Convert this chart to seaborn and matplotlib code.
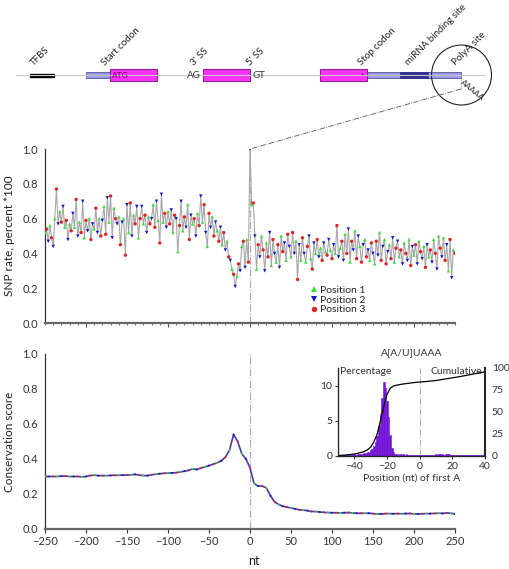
import numpy as np
import pandas as pd
import matplotlib
matplotlib.use("Agg")
import matplotlib.pyplot as plt
import matplotlib.ticker as ticker
from matplotlib.patches import Rectangle, Circle
import seaborn as sns

# SNP rate (percent * 100), every 2 nt from -250 to 250
snp_left = [
    0.52, 0.54, 0.47, 0.56, 0.49, 0.44, 0.60, 0.77, 0.57, 0.64,
    0.58, 0.67, 0.55, 0.59, 0.48, 0.57, 0.53, 0.63, 0.55, 0.71,
    0.50, 0.58, 0.52, 0.70, 0.49, 0.59, 0.53, 0.60, 0.48, 0.57,
    0.54, 0.66, 0.52, 0.60, 0.50, 0.59, 0.67, 0.51, 0.72, 0.58,
    0.73, 0.49, 0.66, 0.60, 0.57, 0.61, 0.45, 0.58, 0.60, 0.39,
    0.68, 0.52, 0.69, 0.50, 0.62, 0.57, 0.67, 0.49, 0.60, 0.67,
    0.57, 0.62, 0.52, 0.61, 0.57, 0.60, 0.68, 0.55, 0.70, 0.59,
    0.46, 0.74, 0.58, 0.63, 0.55, 0.64, 0.57, 0.65, 0.52, 0.62,
    0.60, 0.41, 0.56, 0.70, 0.53, 0.61, 0.55, 0.68, 0.48, 0.62,
    0.57, 0.60, 0.50, 0.63, 0.56, 0.73, 0.58, 0.68, 0.52, 0.44,
    0.63, 0.55, 0.61, 0.50, 0.58, 0.53, 0.47, 0.55, 0.45, 0.52,
    0.42, 0.47, 0.38, 0.36, 0.31, 0.28, 0.21, 0.27, 0.34, 0.30,
    0.44, 0.47, 0.32, 0.48, 0.35,
]
snp_zero = [1.0]
snp_right = [
    0.68, 0.69, 0.50, 0.31, 0.45, 0.38, 0.50, 0.42, 0.30,
    0.46, 0.38, 0.52, 0.33, 0.48, 0.40, 0.35, 0.45, 0.32, 0.50,
    0.41, 0.46, 0.36, 0.51, 0.44, 0.38, 0.52, 0.40, 0.47, 0.25,
    0.45, 0.36, 0.49, 0.40, 0.35, 0.44, 0.50, 0.37, 0.31, 0.46,
    0.40, 0.48, 0.38, 0.43, 0.36, 0.46, 0.41, 0.39, 0.48, 0.42,
    0.37, 0.45, 0.40, 0.56, 0.38, 0.43, 0.47, 0.36, 0.51, 0.40,
    0.54, 0.35, 0.47, 0.42, 0.53, 0.37, 0.50, 0.44, 0.35, 0.45,
    0.48, 0.38, 0.42, 0.36, 0.46, 0.40, 0.34, 0.47, 0.39, 0.52,
    0.36, 0.44, 0.48, 0.34, 0.41, 0.45, 0.37, 0.49, 0.35, 0.43,
    0.47, 0.38, 0.42, 0.34, 0.46, 0.40, 0.36, 0.48, 0.33, 0.44,
    0.39, 0.45, 0.34, 0.47, 0.41, 0.37, 0.44, 0.32, 0.45, 0.38,
    0.42, 0.35, 0.48, 0.40, 0.31, 0.50, 0.43, 0.38, 0.49, 0.36,
    0.45, 0.30, 0.48, 0.26, 0.42, 0.40,
]
snp_nt = np.arange(-250, 251, 2)
snp_rate = snp_left + snp_zero + snp_right
position_names = ["Position 1", "Position 2", "Position 3"]

# conservation score, every 5 nt
cons_nt = np.arange(-250, 251, 5)
cons_score = [
    0.300, 0.300, 0.300, 0.300, 0.302, 0.302, 0.300, 0.300, 0.300, 0.298,
    0.300, 0.305, 0.308, 0.305, 0.305, 0.305, 0.306, 0.307, 0.307, 0.308,
    0.308, 0.310, 0.312, 0.308, 0.305, 0.305, 0.310, 0.313, 0.316, 0.318,
    0.320, 0.320, 0.322, 0.326, 0.330, 0.335, 0.343, 0.340, 0.348, 0.355,
    0.362, 0.370, 0.378, 0.390, 0.410, 0.450, 0.540, 0.500, 0.430, 0.400,
    0.350, 0.260, 0.245, 0.245, 0.235, 0.190, 0.155, 0.140, 0.130, 0.125,
    0.120, 0.115, 0.110, 0.108, 0.105, 0.100, 0.100, 0.097, 0.095, 0.094,
    0.093, 0.093, 0.092, 0.093, 0.094, 0.092, 0.090, 0.090, 0.090, 0.090,
    0.088, 0.086, 0.086, 0.088, 0.088, 0.087, 0.088, 0.087, 0.088, 0.089,
    0.086, 0.086, 0.087, 0.088, 0.088, 0.089, 0.090, 0.089, 0.092, 0.090,
    0.086,
]

# inset: A[A/U]UAAA position of first A (percentage per nt, -50..40)
hist_nt = np.arange(-50, 41)
hist_pct = [
    0.1, 0.1, 0.15, 0.1, 0.15, 0.2, 0.15, 0.2, 0.2, 0.2,
    0.25, 0.2, 0.3, 0.3, 0.35, 0.3, 0.4, 0.45, 0.5, 0.6,
    0.8, 1.0, 1.4, 2.0, 2.9, 4.2, 6.0, 8.2, 10.5, 9.6,
    7.8, 5.5, 3.0, 1.2, 0.5, 0.25, 0.3, 0.2, 0.35, 0.2,
    0.3, 0.2, 0.35, 0.2, 0.15, 0.2, 0.2, 0.15, 0.1, 0.2,
    0.15, 0.1, 0.2, 0.15, 0.1, 0.15, 0.2, 0.15, 0.2, 0.2,
    0.25, 0.2, 0.3, 0.25, 0.3, 0.2, 0.35, 0.3, 0.25, 0.2,
    0.2, 0.15, 0.2, 0.15, 0.2, 0.15, 0.1, 0.2, 0.15, 0.1,
    0.15, 0.1, 0.15, 0.1, 0.1, 0.15, 0.1, 0.1, 0.15, 0.1,
    0.1,
]
cum_nt = np.arange(-50, 41, 2)
cum_pct = [
    0.5, 0.8, 1.0, 1.4, 1.8, 2.3, 3.0, 4.0, 5.0, 7.0,
    10, 16, 25, 40, 56, 70, 77, 79.5, 80.5, 81.2,
    81.8, 82.3, 82.8, 83.3, 83.7, 84, 84.3, 84.6, 85, 85.4,
    85.8, 86.3, 87, 87.6, 88.2, 88.8, 89.4, 90, 90.7, 91.4,
    92.1, 92.8, 93.5, 94.2, 94.9, 95.6,
]

# gene diagram (figure pixels)
backbone = (16, 485)
tfbs = (30, 54)
utr5 = (86, 110)
exons = [(110, 157), (203, 250), (320, 367)]
utr3 = (367, 461)
mirna = (400, 428)
diagram_labels = [("TFBS", 35), ("Start codon", 106), ("3' SS", 195),
                  ("5' SS", 251), ("Stop codon", 363),
                  ("miRNA binding site", 410), ("PolyA site", 457)]

sns.set_style("ticks")
plt.rcParams["font.family"] = ["Lato", "DejaVu Sans"]
plt.rcParams["font.size"] = 8

pos_colors = {"Position 1": "#3ddc3d", "Position 2": "#1515c8",
              "Position 3": "#e02424"}
pos_markers = {"Position 1": "^", "Position 2": "v", "Position 3": "o"}
minus = lambda v, p: f"{int(v)}".replace("-", "\u2212")

fig = plt.figure(figsize=(5.1, 5.69), dpi=100)
ax1 = fig.add_axes([0.0882, 0.4323, 0.8039, 0.3058])
ax2 = fig.add_axes([0.0882, 0.0703, 0.8039, 0.3076])
ax3 = fig.add_axes([0.6627, 0.1986, 0.2882, 0.1547])

# SNP panel
snp = pd.DataFrame({"nt": snp_nt, "rate": snp_rate})
snp["pos"] = [position_names[(n + 250) % 3] for n in snp_nt]
ax1.axvline(0, color="#aaaaaa", lw=0.8, ls="-.", zorder=0)
sns.lineplot(data=snp, x="nt", y="rate", color="#a8a8a8", lw=0.8, ax=ax1)
sns.scatterplot(data=snp, x="nt", y="rate", hue="pos", style="pos",
                palette=pos_colors, markers=pos_markers, s=6, linewidth=0,
                hue_order=position_names, ax=ax1, zorder=3)
ax1.set_xlim(-250, 250)
ax1.set_ylim(0, 1.0)
ax1.xaxis.set_major_locator(ticker.MultipleLocator(100))
ax1.xaxis.set_minor_locator(ticker.MultipleLocator(10))
ax1.yaxis.set_major_locator(ticker.MultipleLocator(0.2))
ax1.yaxis.set_major_formatter(ticker.FormatStrFormatter("%.1f"))
ax1.tick_params(axis="x", which="major", length=3, labelbottom=False, color="#555555")
ax1.tick_params(axis="x", which="minor", length=1.5, color="#555555")
ax1.tick_params(axis="y", length=0, pad=5, labelsize=8, colors="#333333")
ax1.set_xlabel("")
ax1.set_ylabel("SNP rate, percent *100", fontsize=8.5, color="#222222")
ax1.yaxis.set_label_coords(-0.072, 0.5)
ax1.legend(loc="lower left", bbox_to_anchor=(0.63, 0.02), frameon=False,
           fontsize=7.5, handletextpad=0.1, labelspacing=0.05,
           borderpad=0, handlelength=1, markerscale=1.6)

# conservation panel
cons = pd.DataFrame({"nt": cons_nt, "score": cons_score})
cons["pos"] = [position_names[i % 3] for i in range(len(cons_nt))]
ax2.axvline(0, color="#aaaaaa", lw=0.8, ls="-.", zorder=0)
sns.lineplot(data=cons, x="nt", y="score", color="#4a3a9c", lw=1.2, ax=ax2)
sns.scatterplot(data=cons, x="nt", y="score", hue="pos", palette=pos_colors,
                s=2, linewidth=0, legend=False, ax=ax2, zorder=3)
ax2.set_xlim(-250, 250)
ax2.set_ylim(0, 1.0)
ax2.xaxis.set_major_locator(ticker.MultipleLocator(50))
ax2.yaxis.set_major_locator(ticker.MultipleLocator(0.2))
ax2.yaxis.set_major_formatter(ticker.FormatStrFormatter("%.1f"))
ax2.xaxis.set_major_formatter(ticker.FuncFormatter(minus))
ax2.tick_params(axis="x", length=3, labelsize=8, colors="#333333", pad=2)
ax2.tick_params(axis="y", length=0, pad=5, labelsize=8, colors="#333333")
ax2.set_xlabel("nt", fontsize=9, color="#222222")
ax2.xaxis.set_label_coords(0.51, -0.15)
ax2.set_ylabel("Conservation score", fontsize=8.5, color="#222222")
ax2.yaxis.set_label_coords(-0.072, 0.5)

for ax in (ax1, ax2):
    sns.despine(ax=ax)
    ax.spines["bottom"].set_linewidth(1.6)
    ax.spines["bottom"].set_color("#666666")
    ax.spines["left"].set_linewidth(0.9)
    ax.spines["left"].set_color("#333333")

# inset
sns.histplot(x=hist_nt, weights=hist_pct, binwidth=1, binrange=(-50.5, 40.5),
             color="#7414d8", edgecolor="#7414d8", linewidth=0.4, alpha=1,
             ax=ax3)
ax3.axvline(0, color="#aaaaaa", lw=0.7, ls="-.", zorder=0)
ax3.set_xlim(-50, 40)
ax3.set_ylim(0, 12.5)
ax3.set_xticks([-40, -20, 0, 20, 40])
ax3.set_yticks([0, 5, 10])
ax3.xaxis.set_major_formatter(ticker.FuncFormatter(minus))
ax3.tick_params(length=2, labelsize=7.5, colors="#333333", pad=2)
ax3.set_ylabel("")
ax3.set_xlabel("Position (nt) of first A", fontsize=7.5, color="#333333", labelpad=2)
ax3.set_title("A[A/U]UAAA", fontsize=7.5, color="#333333", pad=9)
ax3.text(-49, 12.6, "Percentage", fontsize=7.5, color="#333333", va="top")
ax3.text(38, 12.6, "Cumulative", fontsize=7.5, color="#333333", va="top", ha="right")
ax3b = ax3.twinx()
sns.lineplot(x=cum_nt, y=cum_pct, color="black", lw=0.9, ax=ax3b)
ax3b.set_ylim(0, 100)
ax3b.set_yticks([0, 25, 50, 75, 100])
ax3b.tick_params(length=0, labelsize=7.5, colors="#333333", pad=5)
for a in (ax3, ax3b):
    a.spines["top"].set_visible(False)
ax3.spines["right"].set_visible(False)
ax3b.spines["left"].set_linewidth(0.9)
ax3b.spines["bottom"].set_linewidth(0.9)
ax3b.spines["right"].set_linewidth(1.5)

# gene diagram overlay in figure pixels
ov = fig.add_axes([0, 0, 1, 1], zorder=10)
ov.set_xlim(0, 510)
ov.set_ylim(569, 0)
ov.axis("off")
ov.patch.set_alpha(0)
ov.plot(backbone, [75, 75], color="#c8c8c8", lw=0.8)
ov.add_patch(Rectangle((tfbs[0], 73.5), tfbs[1] - tfbs[0], 3, color="black"))
for lo, hi in (utr5, utr3):
    ov.add_patch(Rectangle((lo, 72.3), hi - lo, 6, facecolor="#9b9bf0",
                           edgecolor="#555588", lw=0.6))
ov.add_patch(Rectangle((mirna[0], 72.3), mirna[1] - mirna[0], 6,
                       facecolor="#30308f", edgecolor="#30308f", lw=0.6))
for lo, hi in exons:
    ov.add_patch(Rectangle((lo, 69), hi - lo, 12, facecolor="#ff33ff",
                           edgecolor="#882288", lw=0.8))
ov.text(112, 75.5, "ATG", fontsize=6, color="#6a006a", va="center")
ov.text(201, 75.5, "AG", fontsize=7, color="#333333", va="center", ha="right")
ov.text(253, 75.5, "GT", fontsize=7, color="#333333", va="center", ha="left")
ov.text(362, 76, "*", fontsize=6, color="#6a006a", va="center", ha="center")
ov.text(464, 78, "AAAAA", fontsize=6, color="#333333", rotation=-40,
        rotation_mode="anchor", ha="left", va="top")
for txt, x in diagram_labels:
    ov.text(x, 67, txt, fontsize=7, color="#222222", rotation=45,
            rotation_mode="anchor", ha="left", va="bottom")
ov.add_patch(Circle((461.5, 75), 30, fill=False, edgecolor="#222222", lw=0.8))
ov.plot([461, 461], [77, 89], color="#666666", lw=0.6, ls=":")
ov.plot([461, 250], [89, 149], color="#555555", lw=0.6, ls="-.")

fig.savefig("out.png", dpi=100)
